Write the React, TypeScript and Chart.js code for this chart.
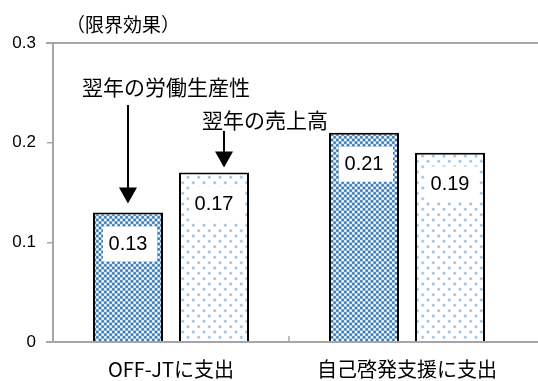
import { useEffect, useRef } from 'react';
import { Chart, registerables } from 'chart.js';

Chart.register(...registerables);

// Categories, series and axis ticks
const categories = ['OFF-JTに支出', '自己啓発支援に支出'];
const seriesNames = ['翌年の労働生産性', '翌年の売上高'];
const productivity = [0.13, 0.21];
const sales = [0.17, 0.19];
const yTicks = [0, 0.1, 0.2, 0.3];
const unitLabel = '（限界効果）';

const JP = "'Noto Sans CJK JP', sans-serif";
const NUM = "'Liberation Sans', 'Noto Sans CJK JP', sans-serif";
const AXIS_GRAY = '#A6A6A6';
const PATTERN_SCALE = 4 / 3;

function makePattern(size: number, bg: string, fg: string, cells: [number, number][], cell: number): CanvasPattern {
  const c = document.createElement('canvas');
  c.width = size;
  c.height = size;
  const g = c.getContext('2d')!;
  g.fillStyle = bg;
  g.fillRect(0, 0, size, size);
  g.fillStyle = fg;
  for (const [cx, cy] of cells) g.fillRect(cx, cy, cell, cell);
  const p = g.createPattern(c, 'repeat')!;
  p.setTransform(new DOMMatrix().scale(PATTERN_SCALE, PATTERN_SCALE));
  return p;
}

// small checkerboard
const checkerPattern = () => makePattern(4, '#ffffff', '#2E75B6', [[0, 0], [2, 2]], 2);
// sparse staggered dots
const dotPattern = () => makePattern(8, '#ffffff', '#9DC3E6', [[0, 0], [4, 4]], 2);

// Axis lines that run to the right edge, the category divider tick,
// value boxes inside the bars, the series callouts and the unit label.
const decorations = {
  id: 'decorations',
  afterDatasetsDraw(chart: any) {
    const { ctx, chartArea, scales } = chart;
    const x = scales.x;
    const y = scales.y;
    const W = chart.width;

    ctx.save();
    ctx.strokeStyle = AXIS_GRAY;
    ctx.lineWidth = 2;
    // top line at the axis maximum and the baseline
    for (const v of [yTicks[yTicks.length - 1], 0]) {
      const py = Math.round(y.getPixelForValue(v));
      ctx.beginPath();
      ctx.moveTo(chartArea.left - 7, py);
      ctx.lineTo(W, py);
      ctx.stroke();
    }
    // divider tick between categories
    const mid = (x.getPixelForValue(0) + x.getPixelForValue(1)) / 2;
    const base = y.getPixelForValue(0);
    ctx.lineWidth = 1.5;
    ctx.beginPath();
    ctx.moveTo(mid, base - 6);
    ctx.lineTo(mid, base);
    ctx.stroke();

    // value labels in white boxes
    chart.data.datasets.forEach((ds: any, di: number) => {
      const meta = chart.getDatasetMeta(di);
      meta.data.forEach((bar: any, i: number) => {
        const v = ds.data[i] as number;
        const cx = bar.x;
        const cy = bar.y + 31;
        ctx.fillStyle = '#ffffff';
        ctx.fillRect(cx - 25, cy - 17, 54, 35);
        ctx.fillStyle = '#000000';
        ctx.font = `20px ${NUM}`;
        ctx.textAlign = 'center';
        ctx.textBaseline = 'middle';
        ctx.fillText(v.toFixed(2), cx, cy + 1);
      });
    });

    // series callouts with arrows
    const arrow = (ax: number, y0: number, y1: number) => {
      ctx.strokeStyle = '#000';
      ctx.fillStyle = '#000';
      ctx.lineWidth = 2;
      ctx.beginPath();
      ctx.moveTo(ax, y0);
      ctx.lineTo(ax, y1 - 14);
      ctx.stroke();
      ctx.beginPath();
      ctx.moveTo(ax - 9, y1 - 16);
      ctx.lineTo(ax + 9, y1 - 16);
      ctx.lineTo(ax, y1);
      ctx.closePath();
      ctx.fill();
    };
    const b0 = chart.getDatasetMeta(0).data[0];
    const b1 = chart.getDatasetMeta(1).data[0];
    ctx.font = `21px ${JP}`;
    ctx.textAlign = 'left';
    ctx.textBaseline = 'middle';
    ctx.fillStyle = '#000';
    ctx.fillText(seriesNames[0], 82, 87);
    arrow(b0.x, 105, b0.y - 9);
    ctx.fillText(seriesNames[1], 202, 120);
    arrow(b1.x + 10, 131, b1.y - 5);

    // unit label
    ctx.font = `19px ${JP}`;
    ctx.fillText(unitLabel, 66, 25);
    ctx.restore();
  },
};

export default function App() {
  const ref = useRef<HTMLCanvasElement | null>(null);

  useEffect(() => {
    document.body.style.margin = '0';
    const canvas = ref.current!;
    const chart = new Chart(canvas, {
      type: 'bar',
      data: {
        labels: categories,
        datasets: [
          {
            label: seriesNames[0],
            data: productivity,
            backgroundColor: checkerPattern(),
            borderColor: '#000000',
            borderWidth: 2,
            barPercentage: 0.814,
            categoryPercentage: 0.729,
          },
          {
            label: seriesNames[1],
            data: sales,
            backgroundColor: dotPattern(),
            borderColor: '#000000',
            borderWidth: 2,
            barPercentage: 0.814,
            categoryPercentage: 0.729,
          },
        ],
      },
      options: {
        animation: false,
        responsive: false,
        layout: { padding: { top: 43, right: 13, left: 0, bottom: 0 } },
        plugins: {
          legend: { display: false },
          tooltip: { enabled: false },
          title: { display: false },
        },
        scales: {
          x: {
            grid: { display: false },
            border: { display: false },
            ticks: {
              color: '#000000',
              font: { size: 20, family: JP },
              padding: 7,
            },
            afterFit: (s: any) => {
              s.height = 39;
            },
          },
          y: {
            min: 0,
            max: 0.3,
            afterBuildTicks: (s: any) => {
              s.ticks = yTicks.map((v) => ({ value: v }));
            },
            ticks: {
              color: '#000000',
              font: { size: 17, family: NUM },
              padding: 11,
              callback: (v: any) => (Number(v) === 0 ? '0' : Number(v).toFixed(1)),
            },
            grid: {
              drawOnChartArea: false,
              tickLength: 6,
              color: AXIS_GRAY,
              lineWidth: 1.5,
            },
            border: { color: AXIS_GRAY, width: 2 },
            afterFit: (s: any) => {
              s.width = 53;
            },
          },
        },
      },
      plugins: [decorations],
    });
    return () => chart.destroy();
  }, []);

  return (
    <div style={{ position: 'fixed', left: 0, top: 0, width: 538, height: 381, background: '#fff' }}>
      <canvas ref={ref} width={538} height={381} />
    </div>
  );
}
